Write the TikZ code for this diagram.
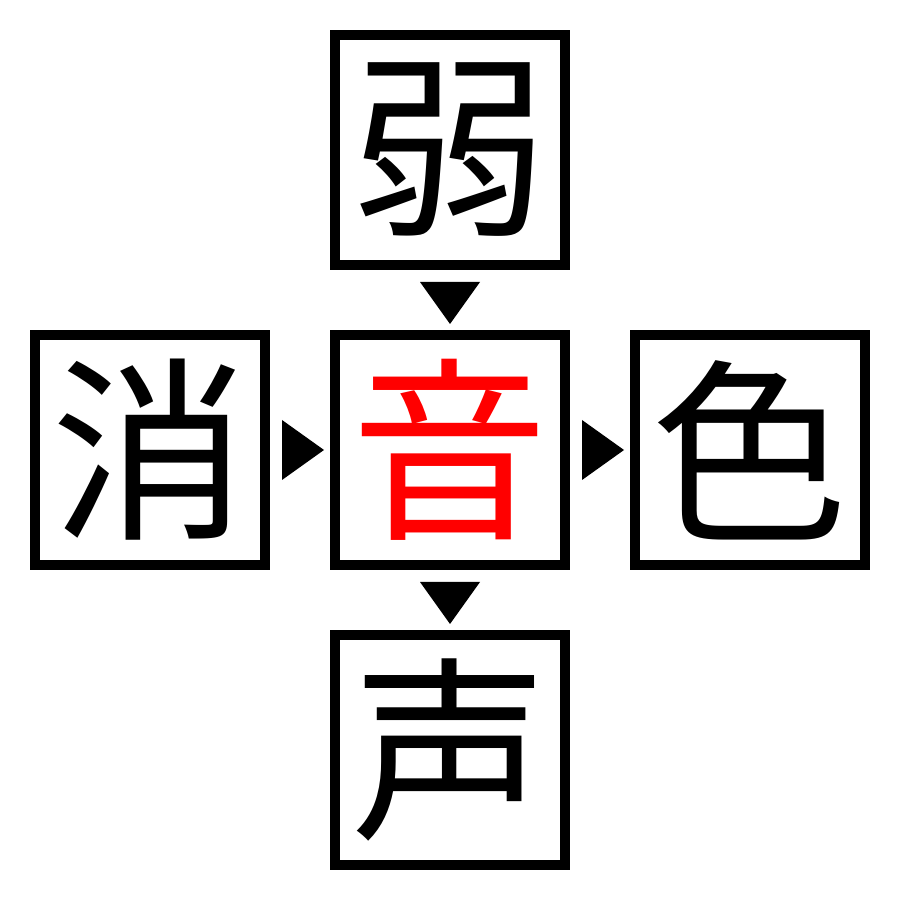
\documentclass[tikz,border=0pt]{standalone}
\usepackage{fontspec}
\newfontfamily\cjk{Noto Sans CJK JP}
\usetikzlibrary{calc}
\tikzset{
  kbox/.style={draw=black, line width=1mm, minimum size=2.3cm, inner sep=0pt,
    font=\cjk\fontsize{56pt}{56pt}\selectfont},
  tri/.style={fill=black}
}
\begin{document}
\begin{tikzpicture}
\useasboundingbox (0,0) rectangle (9,9);
\node[kbox] (top) at (4.5,7.5) {弱};
\node[kbox] (left) at (1.5,4.5) {消};
\node[kbox, text=red] (c) at (4.5,4.5) {音};
\node[kbox] (right) at (7.5,4.5) {色};
\node[kbox] (bot) at (4.5,1.5) {声};
\coordinate (m1) at ($(top.south)!0.5!(c.north)$);
\coordinate (m2) at ($(c.south)!0.5!(bot.north)$);
\coordinate (m3) at ($(left.east)!0.5!(c.west)$);
\coordinate (m4) at ($(c.east)!0.5!(right.west)$);
\fill[tri] ($(m1)+(-0.3,0.18)$) -- ($(m1)+(0.3,0.18)$) -- ($(m1)+(0,-0.24)$) -- cycle;
\fill[tri] ($(m2)+(-0.3,0.18)$) -- ($(m2)+(0.3,0.18)$) -- ($(m2)+(0,-0.24)$) -- cycle;
\fill[tri] ($(m3)+(-0.18,0.3)$) -- ($(m3)+(-0.18,-0.3)$) -- ($(m3)+(0.24,0)$) -- cycle;
\fill[tri] ($(m4)+(-0.18,0.3)$) -- ($(m4)+(-0.18,-0.3)$) -- ($(m4)+(0.24,0)$) -- cycle;
\end{tikzpicture}
\end{document}
